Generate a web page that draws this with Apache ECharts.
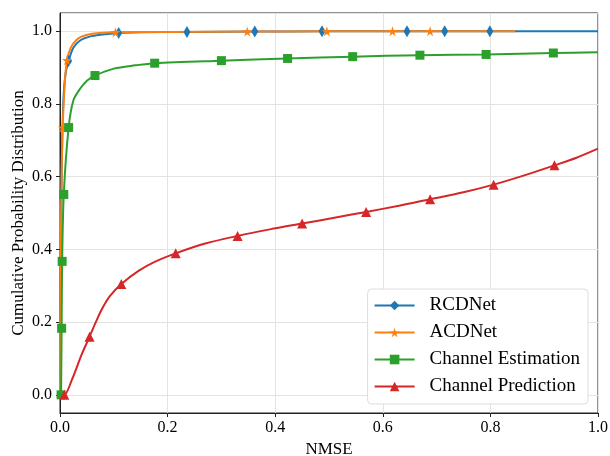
<!DOCTYPE html>
<html>
<head>
<meta charset="utf-8">
<script src="https://cdn.jsdelivr.net/npm/echarts@6/dist/echarts.min.js"></script>
<style>
  html, body { margin: 0; padding: 0; background: #fff; }
  #main { width: 610px; height: 456px; }
</style>
</head>
<body>
<div id="main"></div>
<script>
// curve points [x, y], *Mark = indices of points that carry a marker
var seriesNames = ['RCDNet', 'ACDNet', 'Channel Estimation', 'Channel Prediction'];

var rcdPts = [[0, 0], [0.001, 0.3], [0.003, 0.6], [0.006, 0.8], [0.01, 0.88], [0.016, 0.918],
  [0.025, 0.955], [0.038, 0.975], [0.055, 0.985], [0.075, 0.99], [0.109, 0.995], [0.15, 0.997],
  [0.236, 0.998], [0.362, 0.999], [0.487, 0.9995], [0.645, 1.0], [0.715, 1.0], [0.799, 1.0], [1.0, 1.0]];
var rcdMark = [5, 10, 12, 13, 14, 15, 16, 17];

var acdPts = [[0, 0], [0.001, 0.3], [0.003, 0.6], [0.005, 0.735], [0.009, 0.86], [0.013, 0.92],
  [0.02, 0.955], [0.03, 0.975], [0.04, 0.985], [0.06, 0.993], [0.08, 0.996], [0.103, 0.997],
  [0.2, 0.998], [0.348, 0.999], [0.496, 0.9995], [0.618, 1.0], [0.688, 1.0], [0.846, 1.0]];
var acdMark = [3, 5, 11, 13, 14, 15, 16];

var estPts = [[0.002, 0], [0.003, 0.183], [0.004, 0.367], [0.007, 0.551], [0.016, 0.735],
  [0.025, 0.81], [0.038, 0.843], [0.05, 0.864], [0.065, 0.878], [0.1, 0.897], [0.14, 0.906],
  [0.176, 0.912], [0.3, 0.919], [0.423, 0.925], [0.544, 0.930], [0.669, 0.934], [0.792, 0.936],
  [0.917, 0.940], [1.0, 0.942]];
var estMark = [0, 1, 2, 3, 4, 8, 11, 12, 13, 14, 15, 16, 17];

var predPts = [[0, 0], [0.008, 0], [0.022, 0.041], [0.04, 0.11], [0.055, 0.16], [0.066, 0.198],
  [0.078, 0.236], [0.093, 0.272], [0.114, 0.305], [0.146, 0.341], [0.175, 0.365], [0.215, 0.389],
  [0.27, 0.416], [0.33, 0.437], [0.39, 0.455], [0.45, 0.471], [0.51, 0.487], [0.569, 0.503],
  [0.63, 0.52], [0.688, 0.538], [0.75, 0.557], [0.806, 0.578], [0.86, 0.602], [0.919, 0.631],
  [0.96, 0.652], [1.0, 0.677]];
var predMark = [1, 4, 8, 11, 13, 15, 17, 19, 21, 23];

var colors = ['#1f77b4', '#ff7f0e', '#2ca02c', '#d62728'];
var starPath = 'path://M50,0 L61,35 L98,35 L68,57 L79,91 L50,70 L21,91 L32,57 L2,35 L39,35 Z';
var symbols = ['diamond', starPath, 'rect', 'triangle'];
var symSizes = [[7, 12], 10, 9, 10];
var font = 'Liberation Serif';

function toData(pts, marks) {
  return pts.map(function (p, i) {
    if (marks.indexOf(i) >= 0) return { value: p };
    return { value: p, symbol: 'none' };
  });
}

var allPts = [rcdPts, acdPts, estPts, predPts];
var allMarks = [rcdMark, acdMark, estMark, predMark];

var chart = echarts.init(document.getElementById('main'));
chart.setOption({
  animation: false,
  color: colors,
  grid: { left: 60, right: 12, top: 13, bottom: 43, show: true, borderColor: '#222', borderWidth: 1,
    containLabel: false, outerBoundsMode: 'none' },
  legend: {
    orient: 'vertical', right: 22, bottom: 52,
    data: seriesNames,
    itemWidth: 40, itemHeight: 12, itemGap: 8,
    backgroundColor: '#fff', borderColor: '#ddd', borderWidth: 1, borderRadius: 4,
    padding: [7, 8, 8, 6],
    textStyle: { fontFamily: font, fontSize: 19, color: '#000', padding: [0, 0, 0, 10] }
  },
  xAxis: {
    type: 'value', min: 0, max: 1, interval: 0.2,
    name: 'NMSE', nameLocation: 'middle', nameGap: 24,
    nameTextStyle: { fontFamily: font, fontSize: 17, color: '#000' },
    axisLine: { show: true, onZero: false, lineStyle: { color: '#222' } },
    axisTick: { show: true, length: 4, lineStyle: { color: '#222' } },
    axisLabel: { fontFamily: font, fontSize: 16, color: '#000', margin: 7,
      formatter: function (v) { return v.toFixed(1); } },
    splitLine: { show: true, lineStyle: { color: '#e3e3e3' } }
  },
  yAxis: {
    type: 'value', min: -0.05, max: 1.05, splitNumber: 5,
    name: 'Cumulative Probability Distribution', nameLocation: 'middle', nameGap: 33,
    nameMoveOverlap: false,
    nameTextStyle: { fontFamily: font, fontSize: 17, color: '#000' },
    axisLine: { show: true, onZero: false, lineStyle: { color: '#222' } },
    axisTick: { show: true, length: 4, lineStyle: { color: '#222' } },
    axisLabel: { fontFamily: font, fontSize: 16, color: '#000', margin: 8,
      showMinLabel: false, showMaxLabel: false,
      formatter: function (v) { return v.toFixed(1); } },
    splitLine: { show: true, lineStyle: { color: '#e3e3e3' } }
  },
  series: seriesNames.map(function (name, k) {
    return {
      name: name, type: 'line',
      data: toData(allPts[k], allMarks[k]),
      smooth: 0.3,
      symbol: symbols[k], symbolSize: symSizes[k], showAllSymbol: true,
      lineStyle: { width: 2, color: colors[k] },
      itemStyle: { color: colors[k], borderWidth: 0 },
      clip: false
    };
  })
});
</script>
</body>
</html>
